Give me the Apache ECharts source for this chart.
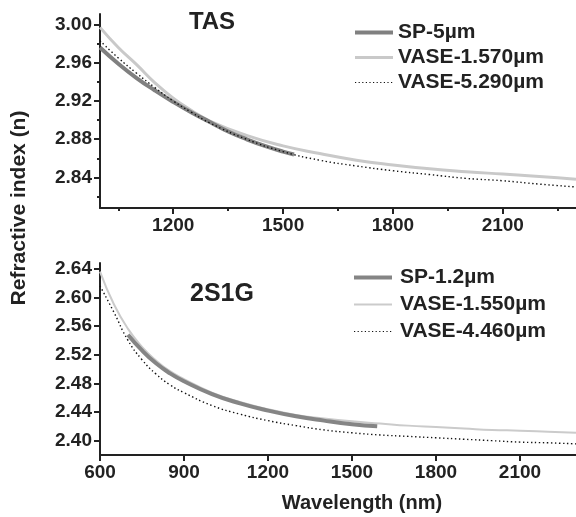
<!DOCTYPE html>
<html>
<head>
<meta charset="utf-8">
<script src="https://cdn.jsdelivr.net/npm/echarts@6/dist/echarts.min.js"></script>
<style>
  html, body { margin: 0; padding: 0; background: #fff; }
  #chart { width: 576px; height: 517px; }
</style>
</head>
<body>
<div id="chart"></div>
<script>
// TAS panel data
var tasSpX = [1000, 1050, 1100, 1150, 1200, 1250, 1300, 1350, 1400, 1450, 1500, 1530];
var tasSp = [2.976, 2.959, 2.944, 2.931, 2.919, 2.908, 2.898, 2.888, 2.880, 2.873, 2.867, 2.864];
var tasVaseX = [1000, 1050, 1100, 1150, 1200, 1250, 1300, 1400, 1500, 1600, 1700, 1800, 1900, 2000, 2100, 2200, 2300];
var tasVase1 = [2.997, 2.976, 2.958, 2.939, 2.923, 2.910, 2.899, 2.884, 2.873, 2.865, 2.858, 2.853, 2.849, 2.846, 2.8435, 2.841, 2.838];
var tasVase2 = [2.983, 2.965, 2.949, 2.934, 2.920, 2.908, 2.897, 2.880, 2.867, 2.858, 2.852, 2.847, 2.843, 2.839, 2.8365, 2.833, 2.830];

// 2S1G panel data
var gSpX = [700, 750, 800, 850, 900, 1000, 1100, 1200, 1300, 1400, 1500, 1590];
var gSp = [2.548, 2.526, 2.508, 2.494, 2.483, 2.465, 2.452, 2.442, 2.434, 2.428, 2.423, 2.420];
var gVaseX = [600, 650, 700, 750, 800, 850, 900, 1000, 1100, 1200, 1300, 1400, 1500, 1600, 1700, 1800, 1900, 2000, 2100, 2200, 2300];
var gVase1 = [2.636, 2.590, 2.556, 2.531, 2.512, 2.497, 2.486, 2.467, 2.454, 2.444, 2.436, 2.431, 2.427, 2.424, 2.421, 2.419, 2.417, 2.415, 2.414, 2.4125, 2.411];
var gVase2 = [2.616, 2.579, 2.540, 2.513, 2.493, 2.478, 2.467, 2.449, 2.437, 2.428, 2.421, 2.415, 2.411, 2.408, 2.406, 2.404, 2.402, 2.400, 2.398, 2.397, 2.3955];

// ticks
var tasXTicks = [1200, 1500, 1800, 2100];
var tasXMinor = [1050, 1350, 1650, 1950, 2250];
var tasYTicks = [2.84, 2.88, 2.92, 2.96, 3.00];
var tasYMinor = [2.82, 2.86, 2.90, 2.94, 2.98];
var gYTicks = [2.40, 2.44, 2.48, 2.52, 2.56, 2.60, 2.64];

function pairs(xs, ys) {
  var out = [];
  for (var i = 0; i < xs.length; i++) out.push([xs[i], ys[i]]);
  return out;
}

var FONT = '"Liberation Sans", Arial, sans-serif';
var INK = '#222';
var lblStyle = { color: INK, fontFamily: FONT, fontWeight: 'bold', fontSize: 19 };
var axLine = { show: true, onZero: false, lineStyle: { color: INK, width: 2 } };
var plain = function (v) { return String(v); };
var fix2 = function (v) { return v.toFixed(2); };
var legText = { color: INK, fontFamily: FONT, fontWeight: 'bold', fontSize: 21 };

// line looks
var spDark = { color: '#808080', width: 4 };
var vaseLight = { color: '#c9c9c9', width: 3 };
var vaseLight2 = { color: '#cbcbcb', width: 2 };
var dotted = { color: '#111', width: 1.4, type: [1.4, 2.6] };

var myChart = echarts.init(document.getElementById('chart'));

var option = {
  animation: false,
  backgroundColor: '#fff',
  title: [
    { text: 'TAS', left: 212, top: 10, textAlign: 'center', padding: 0,
      textStyle: { color: INK, fontFamily: FONT, fontWeight: 'bold', fontSize: 24 } },
    { text: '2S1G', left: 222, top: 282, textAlign: 'center', padding: 0,
      textStyle: { color: INK, fontFamily: FONT, fontWeight: 'bold', fontSize: 25 } }
  ],
  legend: [
    { orient: 'vertical', left: 353, top: 22, padding: 0, itemWidth: 38, itemHeight: 14, itemGap: 4,
      itemStyle: { opacity: 0 },
      data: [
        { name: 'SP-5µm', lineStyle: spDark },
        { name: 'VASE-1.570µm', lineStyle: vaseLight },
        { name: 'VASE-5.290µm', lineStyle: { color: '#111', width: 1.2, type: [1.2, 2.4] } }
      ],
      textStyle: legText },
    { orient: 'vertical', left: 352, top: 267, padding: 0, itemWidth: 38, itemHeight: 14, itemGap: 6,
      itemStyle: { opacity: 0 },
      data: [
        { name: 'SP-1.2µm', lineStyle: { color: '#858585', width: 4 } },
        { name: 'VASE-1.550µm', lineStyle: vaseLight2 },
        { name: 'VASE-4.460µm', lineStyle: { color: '#111', width: 1.2, type: [1.2, 2.4] } }
      ],
      textStyle: Object.assign({ padding: [0, 0, 0, 3] }, legText) }
  ],
  graphic: [
    { type: 'text', x: 19, y: 208, rotation: Math.PI / 2,
      style: { text: 'Refractive index (n)', fill: INK, font: 'bold 21px ' + FONT,
        textAlign: 'center', textVerticalAlign: 'middle' } },
    { type: 'text', x: 362, y: 503,
      style: { text: 'Wavelength (nm)', fill: INK, font: 'bold 20px ' + FONT,
        textAlign: 'center', textVerticalAlign: 'middle' } }
  ],
  grid: [
    { left: 100, top: 14, width: 480, height: 194 },
    { left: 100, top: 263, width: 480, height: 192 }
  ],
  xAxis: [
    { type: 'value', gridIndex: 0, min: 1000, max: 2300, position: 'bottom',
      axisLine: axLine, splitLine: { show: false },
      axisTick: { customValues: tasXTicks, length: 6, lineStyle: { color: INK, width: 2 } },
      axisLabel: Object.assign({ customValues: tasXTicks, margin: 8, formatter: plain }, lblStyle) },
    { type: 'value', gridIndex: 0, min: 1000, max: 2300, position: 'bottom',
      axisLine: { show: false }, splitLine: { show: false }, axisLabel: { show: false },
      axisTick: { customValues: tasXMinor, length: 3, lineStyle: { color: INK, width: 2 } } },
    { type: 'value', gridIndex: 1, min: 600, max: 2300, interval: 300, position: 'bottom',
      axisLine: axLine, splitLine: { show: false },
      axisTick: { length: 6, lineStyle: { color: INK, width: 2 } },
      axisLabel: Object.assign({ margin: 8, showMaxLabel: false, formatter: plain }, lblStyle) }
  ],
  yAxis: [
    { type: 'value', gridIndex: 0, min: 2.808, max: 3.011, position: 'left',
      axisLine: axLine, splitLine: { show: false },
      axisTick: { customValues: tasYTicks, length: 6, lineStyle: { color: INK, width: 2 } },
      axisLabel: Object.assign({ customValues: tasYTicks, margin: 8, formatter: fix2 }, lblStyle) },
    { type: 'value', gridIndex: 0, min: 2.808, max: 3.011, position: 'left',
      axisLine: { show: false }, splitLine: { show: false }, axisLabel: { show: false },
      axisTick: { customValues: tasYMinor, length: 3, lineStyle: { color: INK, width: 2 } } },
    { type: 'value', gridIndex: 1, min: 2.38, max: 2.648, position: 'left',
      axisLine: axLine, splitLine: { show: false },
      axisTick: { customValues: gYTicks, length: 6, lineStyle: { color: INK, width: 2 } },
      axisLabel: Object.assign({ customValues: gYTicks, margin: 8, formatter: fix2 }, lblStyle) }
  ],
  series: [
    { name: 'VASE-1.570µm', type: 'line', xAxisIndex: 0, yAxisIndex: 0, smooth: true, symbol: 'none',
      data: pairs(tasVaseX, tasVase1), lineStyle: vaseLight, itemStyle: { color: vaseLight.color } },
    { name: 'SP-5µm', type: 'line', xAxisIndex: 0, yAxisIndex: 0, smooth: true, symbol: 'none',
      data: pairs(tasSpX, tasSp), lineStyle: spDark, itemStyle: { color: spDark.color } },
    { name: 'VASE-5.290µm', type: 'line', xAxisIndex: 0, yAxisIndex: 0, smooth: true, symbol: 'none',
      data: pairs(tasVaseX, tasVase2), lineStyle: dotted, itemStyle: { color: dotted.color } },

    { name: 'VASE-1.550µm', type: 'line', xAxisIndex: 2, yAxisIndex: 2, smooth: true, symbol: 'none',
      data: pairs(gVaseX, gVase1), lineStyle: vaseLight2, itemStyle: { color: vaseLight2.color } },
    { name: 'SP-1.2µm', type: 'line', xAxisIndex: 2, yAxisIndex: 2, smooth: true, symbol: 'none',
      data: pairs(gSpX, gSp), lineStyle: { color: '#858585', width: 4 }, itemStyle: { color: '#858585' } },
    { name: 'VASE-4.460µm', type: 'line', xAxisIndex: 2, yAxisIndex: 2, smooth: true, symbol: 'none',
      data: pairs(gVaseX, gVase2), lineStyle: dotted, itemStyle: { color: dotted.color } }
  ]
};
myChart.setOption(option);
</script>
</body>
</html>
